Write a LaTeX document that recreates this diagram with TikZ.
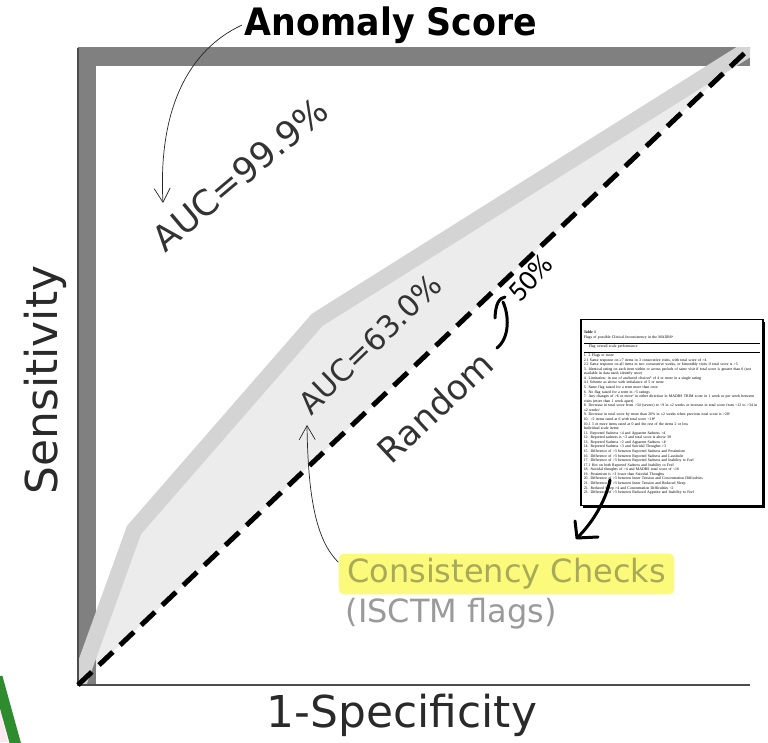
\documentclass[tikz,border=0pt]{standalone}
\usepackage{fontspec}
\setmainfont{DejaVu Sans}
\newfontfamily\anomfont{DejaVu Sans}[FakeStretch=0.92]
\newfontfamily\handfont{Carlito}
\newfontfamily\tabfont{Liberation Serif}
\usepackage{tikz}
\usetikzlibrary{arrows.meta}
\usetikzlibrary{positioning}
\usetikzlibrary{shadows}

\definecolor{perfgray}{HTML}{808080}
\definecolor{bandgray}{HTML}{D4D4D4}
\definecolor{fillgray}{HTML}{ECECEC}
\definecolor{hiliteyellow}{HTML}{FCFA7A}
\definecolor{ccolive}{HTML}{A9A95A}
\definecolor{flaggray}{HTML}{9A9A9A}
\definecolor{labeldark}{HTML}{2A2A2A}
\definecolor{flaggreen}{HTML}{2E8B2E}
\definecolor{pinktint}{HTML}{FBE8F0}

\newcommand{\tabnote}[1]{\raisebox{0.7pt}{\fontsize{1.5}{1.5}\selectfont #1}}

\tikzset{
  axislabel/.style={text=labeldark, inner sep=0pt, font=\fontsize{25}{30}\selectfont},
  auclabel/.style={text=black!80, inner sep=0pt},
  pointer/.style={thin, black!85, -{Straight Barb[length=0.28cm,width=0.32cm]}},
  handline/.style={line width=0.06cm, line cap=round, line join=round},
  flagtable/.style={draw, line width=0.03cm, fill=white,
    drop shadow={shadow xshift=0.05cm, shadow yshift=-0.05cm, opacity=1, fill=black},
    anchor=north west, text width=3.52cm, minimum height=3.72cm,
    inner xsep=0.06cm, inner ysep=0.05cm, align=left,
    font=\tabfont\fontsize{2.2}{2.6}\selectfont},
}

\begin{document}
\begin{tikzpicture}
\useasboundingbox (-1.56,-1.14) rectangle (13.80,13.70);

\fill [pinktint] (-1.56,-0.50) -- (-1.40,-1.14) -- (-1.56,-1.14) -- cycle;
\draw [flaggreen, line width=0.22cm] (-1.62,0.16) -- (-1.23,-1.25);

\begin{scope}
\clip (0,0) rectangle (13.44,12.74);
\fill [fillgray] (0,0) -- (1.12,3.10) -- (4.78,7.30) -- (13.44,12.74) -- cycle;
\draw [perfgray, line width=0.72cm] (0,0) -- (0,12.74) -- (13.44,12.74);
\draw [bandgray, line width=0.32cm] (0,0) -- (1.12,3.10) -- (4.78,7.30) -- (13.44,12.74);
\end{scope}

\draw [black!70, line width=0.04cm] (0,12.74) -- (0,0) -- (13.44,0);
\draw [black, line width=0.1cm, dash pattern=on 0.38cm off 0.2cm] (0,0) -- (13.44,12.74);

\node [axislabel, rotate=90] (sens) at (-0.66,6.10) {Sensitivity};
\node [axislabel] (spec) at (6.48,-0.60) {1-Specificity};
\node [font=\anomfont\bfseries\fontsize{21.5}{25}\selectfont, inner sep=0.05cm] (anom) at (6.26,13.20) {Anomaly Score};

\node [auclabel, rotate=40, font=\fontsize{20}{24}\selectfont] (auc99) at (3.24,10.22) {AUC=99.9\%};
\node [auclabel, rotate=44, font=\fontsize{17.2}{20}\selectfont] (auc63) at (5.84,6.82) {AUC=63.0\%};
\node [auclabel, rotate=43, font=\fontsize{19.6}{24}\selectfont] (rand) at (7.14,5.56) {Random};
\node [rotate=48, inner sep=0pt, font=\handfont\fontsize{16.5}{20}\selectfont] (half) at (9.04,8.14) {50\%};

\node [fill=hiliteyellow, text=ccolive, rounded corners=0.12cm, inner xsep=0.17cm, inner ysep=0.1cm, font=\fontsize{18.2}{22}\selectfont] (cc) at (8.57,2.22) {Consistency Checks};
\node [anchor=north west, text=flaggray, inner sep=0pt, font=\fontsize{18.2}{22}\selectfont] (isctm) at ([xshift=0.14cm,yshift=-0.06cm]cc.south west) {(ISCTM flags)};

\coordinate (auc99tip) at (1.70,9.64);
\coordinate (auc63tip) at (4.58,5.20);
\draw [pointer] (anom.west) .. controls (2.2,12.7) and (1.6,11.5) .. (auc99tip);
\draw [pointer] ([yshift=-0.18cm]cc.north west) .. controls (4.75,2.9) and (4.6,3.8) .. (auc63tip);

\draw [handline] (8.34,7.34) .. controls (8.35,7.62) and (8.42,7.74) .. (8.54,7.76);
\draw [handline] (8.50,7.66) .. controls (8.62,7.40) and (8.64,6.95) .. (8.38,6.74);

\node [flagtable] (tbl) at (10.04,7.32) {\textbf{Table 1}\\
Flags of possible Clinical Inconsistency in the MADRS\tabnote{a}\\
\rule{3.52cm}{0.1pt}\\
\hspace*{0.1cm}Flag overall scale performance\\
\rule{3.52cm}{0.1pt}\\
1. 2 Flags or more\\
2.1 Same response on ≥7 items in 3 consecutive visits, with total score of >4\\
2.2 Same response on all items in two consecutive weeks, or bimonthly visits if total score is >5\\
3. Identical rating on each item within or across periods of same visit if total score is greater than 0 (not available in data used; identify once)\\
4. Limitation: in use of anchored choices\tabnote{b} of 4 or more in a single rating\\
4.1 Scheme as above with imbalance of 5 or more\\
5. Same flag raised for a term more than once\\
6. No flag raised for a term in >5 ratings\\
7. Any changes of >6 or more\tabnote{c} in either direction in MADRS TRIM score in 1 week or per week between visits (more than 1 week apart)\\
8. Decrease in total score from >34 (severe) to <9 in ≤2 weeks or increase in total score from <12 to >34 in ≤2 weeks\tabnote{c}\\
9. Decrease in total score by more than 20\% in ≤2 weeks when previous total score is >28\tabnote{c}\\
10. >2 items rated at 6 with total score <18\tabnote{d}\\
10.1 3 or more items rated at 0 and the rest of the items 2 or less\\
Individual scale items:\\
11. Reported Sadness <4 and Apparent Sadness >4\\
12. Reported sadness is <3 and total score is above 30\\
13. Reported Sadness >2 and Apparent Sadness <4\tabnote{c}\\
14. Reported Sadness <3 and Suicidal Thoughts >3\\
15. Difference of >3 between Reported Sadness and Pessimism\\
16. Difference of >3 between Reported Sadness and Lassitude\\
17. Difference of >3 between Reported Sadness and Inability to Feel\\
17.1 Hot on both Reported Sadness and Inability to Feel\\
18. Suicidal thoughts of >4 and MADRS total score of <16\\
19. Pessimism is >3 lower than Suicidal Thoughts\\
20. Difference of >3 between Inner Tension and Concentration Difficulties\\
21. Difference of >3 between Inner Tension and Reduced Sleep\\
22. Reduced Sleep >4 and Concentration Difficulties <2\\
23. Difference of >3 between Reduced Appetite and Inability to Feel};

\coordinate (tblfoot) at (10.64,4.10);
\coordinate (cctip) at (9.98,2.94);
\draw [handline] (tblfoot) .. controls (10.56,3.70) and (10.30,3.25) .. (cctip);
\draw [handline] (9.94,3.28) -- (cctip) -- (10.40,2.96);
\end{tikzpicture}
\end{document}
